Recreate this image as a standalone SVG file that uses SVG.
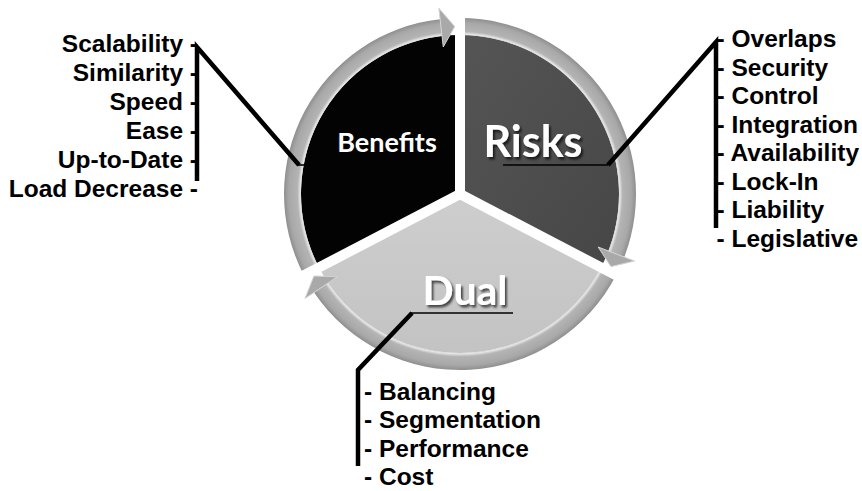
<svg xmlns="http://www.w3.org/2000/svg" width="862" height="491" viewBox="0 0 862 491">
  <defs>
    <radialGradient id="ringGrad" gradientUnits="userSpaceOnUse" cx="460" cy="194" r="188">
      <stop offset="0.84" stop-color="#b8b8b8"/>
      <stop offset="0.85" stop-color="#e6e6e6"/>
      <stop offset="0.865" stop-color="#b4b4b4"/>
      <stop offset="0.91" stop-color="#a8a8a8"/>
      <stop offset="0.935" stop-color="#909090"/>
      <stop offset="1" stop-color="#909090"/>
    </radialGradient>
    <linearGradient id="risksGrad" x1="0" y1="0" x2="1" y2="1">
      <stop offset="0" stop-color="#555555"/>
      <stop offset="1" stop-color="#464646"/>
    </linearGradient>
    <linearGradient id="dualGrad" x1="0" y1="0" x2="0" y2="1">
      <stop offset="0" stop-color="#cecece"/>
      <stop offset="1" stop-color="#c3c3c3"/>
    </linearGradient>
    <filter id="textShadow" x="-20%" y="-20%" width="140%" height="150%">
      <feDropShadow dx="2" dy="2.5" stdDeviation="1.2" flood-color="#000" flood-opacity="0.65"/>
    </filter>
  </defs>
  <style>
    .ring { fill: url(#ringGrad); }
    .head { fill: #a9a9a9; stroke: #d4d4d4; stroke-width: 1; stroke-linejoin: miter; }
    .gap { stroke: #ffffff; stroke-width: 10; stroke-linecap: butt; fill: none; }
    .title { font-family: Lato, "Open Sans", sans-serif; font-weight: 700; fill: #ffffff; text-anchor: middle; }
    .item { font-family: "Liberation Sans", Arial, sans-serif; font-weight: 700; font-size: 24.5px; fill: #000000; }
    .thick { stroke: #000000; stroke-width: 4.5; fill: none; stroke-linejoin: miter; stroke-linecap: butt; }
    .thin { stroke: #000000; stroke-width: 1.6; fill: none; }
  </style>

  <!-- Benefits segment -->
  <g id="benefits">
    <path d="M460 194 L318.97 267.42 A159 159 0 0 1 460 35 Z" fill="#030303"/>
    <path class="ring" d="M303.89 275.27 A176 176 0 0 1 440.08 19.13 L442.00 36.02 A159 159 0 0 0 318.97 267.42 Z"/>
    <path class="head" d="M438.83 8.20 L454.74 26.58 L443.25 46.95 Z"/>
    <text class="title" x="387" y="152" font-size="27">Benefits</text>
  </g>

  <!-- Risks segment -->
  <g id="risks">
    <path d="M460 194 L460 35 A159 159 0 0 1 601.03 267.42 Z" fill="url(#risksGrad)"/>
    <path class="ring" d="M460 18 A176 176 0 0 1 624.31 257.07 L608.44 250.98 A159 159 0 0 0 460 35 Z"/>
    <path class="head" d="M634.58 261.02 L610.93 266.64 L598.17 247.04 Z"/>
    <text class="title" x="533" y="157" font-size="43" filter="url(#textShadow)">Risks</text>
  </g>

  <!-- Dual segment -->
  <g id="dual">
    <path d="M460 194 L601.03 267.42 A159 159 0 0 1 318.97 267.42 Z" fill="url(#dualGrad)"/>
    <path class="ring" d="M616.11 275.27 A176 176 0 0 1 314.09 292.42 L328.18 282.91 A159 159 0 0 0 601.03 267.42 Z"/>
    <path class="head" d="M304.97 298.57 L313.93 275.97 L337.30 276.76 Z"/>
    <text class="title" x="465" y="305" font-size="41" filter="url(#textShadow)">Dual</text>
  </g>

  <!-- white separators between the three segments -->
  <g id="separators">
    <line class="gap" x1="460" y1="194" x2="460" y2="0"/>
    <line class="gap" x1="460" y1="194" x2="642" y2="288.8"/>
    <line class="gap" x1="460" y1="194" x2="278" y2="288.8"/>
  </g>

  <!-- connectors from each segment to its list -->
  <g id="connectors">
    <polyline class="thick" points="197,181 197,47 299,165"/>
    <line class="thin" x1="298" y1="165" x2="306" y2="165"/>
    <polyline class="thick" points="716,228 716,42 608,165"/>
    <line class="thin" x1="608" y1="165" x2="503" y2="165"/>
    <polyline class="thick" points="358,466 358,370 412,313"/>
    <line class="thin" x1="411" y1="313" x2="513" y2="313"/>
  </g>

  <!-- Benefits list -->
  <g id="benefits-list" class="item" text-anchor="end">
    <text x="198" y="52">Scalability -</text>
    <text x="198" y="81">Similarity -</text>
    <text x="198" y="110">Speed -</text>
    <text x="198" y="139">Ease -</text>
    <text x="198" y="168">Up-to-Date -</text>
    <text x="198" y="197">Load Decrease -</text>
  </g>

  <!-- Risks list -->
  <g id="risks-list" class="item">
    <text x="716.5" y="47">- Overlaps</text>
    <text x="716.5" y="75.6">- Security</text>
    <text x="716.5" y="104.1">- Control</text>
    <text x="716.5" y="132.7">- Integration</text>
    <text x="716.5" y="161.3">- Availability</text>
    <text x="716.5" y="189.9">- Lock-In</text>
    <text x="716.5" y="218.4">- Liability</text>
    <text x="716.5" y="247">- Legislative</text>
  </g>

  <!-- Dual list -->
  <g id="dual-list" class="item">
    <text x="364" y="400">- Balancing</text>
    <text x="364" y="428.3">- Segmentation</text>
    <text x="364" y="456.7">- Performance</text>
    <text x="364" y="485">- Cost</text>
  </g>
</svg>
